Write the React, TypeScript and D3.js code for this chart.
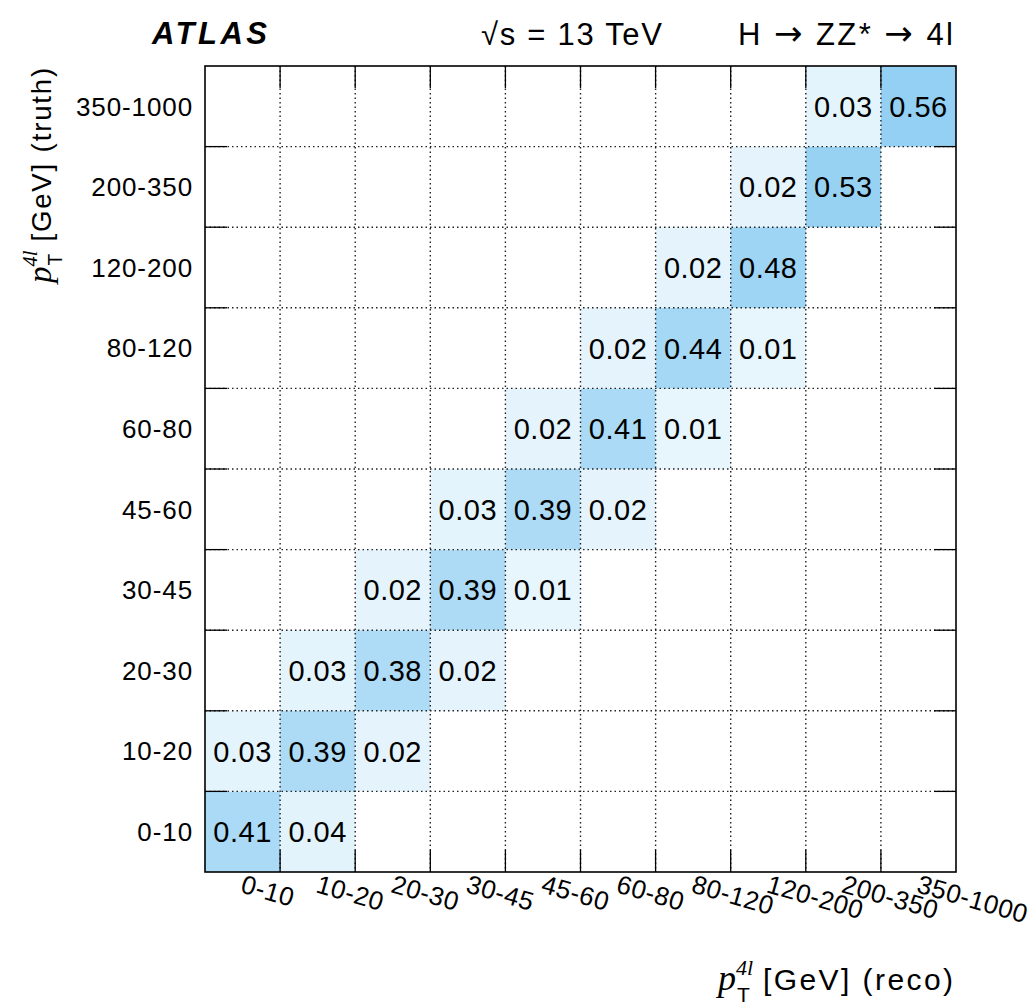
import React from 'react'
import * as d3 from 'd3'

// pT bins (same for reco and truth)
const bins = ['0-10', '10-20', '20-30', '30-45', '45-60', '60-80', '80-120', '120-200', '200-350', '350-1000']

// migration matrix, one row per truth bin (bottom to top), columns = reco bins; 0 = empty
const truth0 = [0.41, 0.04, 0, 0, 0, 0, 0, 0, 0, 0]
const truth1 = [0.03, 0.39, 0.02, 0, 0, 0, 0, 0, 0, 0]
const truth2 = [0, 0.03, 0.38, 0.02, 0, 0, 0, 0, 0, 0]
const truth3 = [0, 0, 0.02, 0.39, 0.01, 0, 0, 0, 0, 0]
const truth4 = [0, 0, 0, 0.03, 0.39, 0.02, 0, 0, 0, 0]
const truth5 = [0, 0, 0, 0, 0.02, 0.41, 0.01, 0, 0, 0]
const truth6 = [0, 0, 0, 0, 0, 0.02, 0.44, 0.01, 0, 0]
const truth7 = [0, 0, 0, 0, 0, 0, 0.02, 0.48, 0, 0]
const truth8 = [0, 0, 0, 0, 0, 0, 0, 0.02, 0.53, 0]
const truth9 = [0, 0, 0, 0, 0, 0, 0, 0, 0.03, 0.56]
const matrix = [truth0, truth1, truth2, truth3, truth4, truth5, truth6, truth7, truth8, truth9]

const W = 1030
const H = 1003
const margin = { top: 66, right: 74, bottom: 131, left: 205 }
const sans = 'Liberation Sans, Arial, Helvetica, sans-serif'
const serif = 'Liberation Serif, Times New Roman, serif'

// p_T^{4l} followed by a unit label, drawn from the given origin
const PtTitle = ({ transform, rest, len }: { transform: string; rest: string; len: number }) => (
  <g transform={transform}>
    <text x={0} y={0} fontFamily={serif} fontStyle="italic" fontSize={36}>p</text>
    <text x={18} y={-15} fontFamily={serif} fontStyle="italic" fontSize={22}>4l</text>
    <text x={19} y={12} fontFamily={sans} fontSize={21}>T</text>
    <text x={45} y={0} fontFamily={sans} fontSize={30} textLength={len} lengthAdjust="spacing">{rest}</text>
  </g>
)

const App = () => {
  const x = d3.scaleBand().domain(bins).range([margin.left, W - margin.right])
  const y = d3.scaleBand().domain(bins).range([H - margin.bottom, margin.top])
  const color = d3.scaleLinear<string>().domain([0.01, 0.56]).range(['#e7f5fc', '#93d0f3'])

  const x0 = margin.left
  const x1 = W - margin.right
  const y0 = margin.top
  const y1 = H - margin.bottom
  const tick = 22

  const cells = matrix.flatMap((row, i) =>
    row.map((v, j) => ({ truth: bins[i], reco: bins[j], v })).filter((d) => d.v > 0)
  )

  return (
    <svg width={W} height={H} style={{ display: 'block', position: 'absolute', left: 0, top: 0 }}>
      <rect width={W} height={H} fill="#fff" />

      {cells.map((d) => (
        <rect
          key={d.truth + d.reco}
          x={x(d.reco)}
          y={y(d.truth)}
          width={x.bandwidth()}
          height={y.bandwidth()}
          fill={color(d.v)}
        />
      ))}

      {/* dotted grid */}
      {bins.slice(1).map((b) => (
        <line key={'gx' + b} x1={x(b)} x2={x(b)} y1={y0} y2={y1} stroke="#222" strokeWidth={1.4} strokeDasharray="1.5,3" />
      ))}
      {bins.slice(1).map((b) => (
        <line key={'gy' + b} x1={x0} x2={x1} y1={(y(b) ?? 0) + y.bandwidth()} y2={(y(b) ?? 0) + y.bandwidth()} stroke="#222" strokeWidth={1.4} strokeDasharray="1.5,3" />
      ))}

      {/* ticks */}
      {bins.slice(1).map((b) => (
        <g key={'tx' + b} stroke="#000" strokeWidth={1.3}>
          <line x1={x(b)} x2={x(b)} y1={y0} y2={y0 + tick} />
          <line x1={x(b)} x2={x(b)} y1={y1} y2={y1 - tick} />
        </g>
      ))}
      {bins.slice(1).map((b) => {
        const yy = (y(b) ?? 0) + y.bandwidth()
        return (
          <g key={'ty' + b} stroke="#000" strokeWidth={1.3}>
            <line x1={x0} x2={x0 + tick} y1={yy} y2={yy} />
            <line x1={x1} x2={x1 - tick} y1={yy} y2={yy} />
          </g>
        )
      })}

      <rect x={x0} y={y0} width={x1 - x0} height={y1 - y0} fill="none" stroke="#000" strokeWidth={1.6} />

      {/* cell values */}
      {cells.map((d) => (
        <text
          key={'t' + d.truth + d.reco}
          x={(x(d.reco) ?? 0) + x.bandwidth() / 2}
          y={(y(d.truth) ?? 0) + y.bandwidth() / 2}
          dy="0.36em"
          textAnchor="middle"
          fontFamily={sans}
          fontSize={29}
          letterSpacing={0.5}
          fill="#000"
        >
          {d.v.toFixed(2)}
        </text>
      ))}

      {/* y tick labels */}
      {bins.map((b) => (
        <text
          key={'ly' + b}
          x={x0 - 12}
          y={(y(b) ?? 0) + y.bandwidth() / 2}
          dy="0.36em"
          textAnchor="end"
          fontFamily={sans}
          fontSize={26}
          letterSpacing={0.9}
        >
          {b}
        </text>
      ))}

      {/* x tick labels, rotated */}
      {bins.map((b) => {
        const cx = (x(b) ?? 0) + x.bandwidth() / 2 - 3
        const cy = y1 + 20
        return (
          <text
            key={'lx' + b}
            transform={`translate(${cx},${cy}) rotate(16)`}
            textAnchor="start"
            fontFamily={sans}
            fontSize={26}
            letterSpacing={0.5}
          >
            {b}
          </text>
        )
      })}

      {/* axis titles */}
      <PtTitle transform="translate(718,990)" rest="[GeV] (reco)" len={190} />
      <PtTitle transform="translate(51,283) rotate(-90) scale(0.92)" rest="[GeV] (truth)" len={189} />

      {/* header */}
      <text x={152} y={44} fontFamily={sans} fontSize={31} fontWeight="bold" fontStyle="italic" textLength={115} lengthAdjust="spacing">
        ATLAS
      </text>
      <text x={481} y={45} fontFamily={sans} fontSize={31} textLength={181} lengthAdjust="spacing">
        √s = 13 TeV
      </text>
      <text x={738} y={45} fontFamily={sans} fontSize={31} textLength={215} lengthAdjust="spacing">
        H <tspan fontFamily="DejaVu Sans" fontSize={34}>→</tspan> ZZ* <tspan fontFamily="DejaVu Sans" fontSize={34}>→</tspan> 4l
      </text>
    </svg>
  )
}

export default App
